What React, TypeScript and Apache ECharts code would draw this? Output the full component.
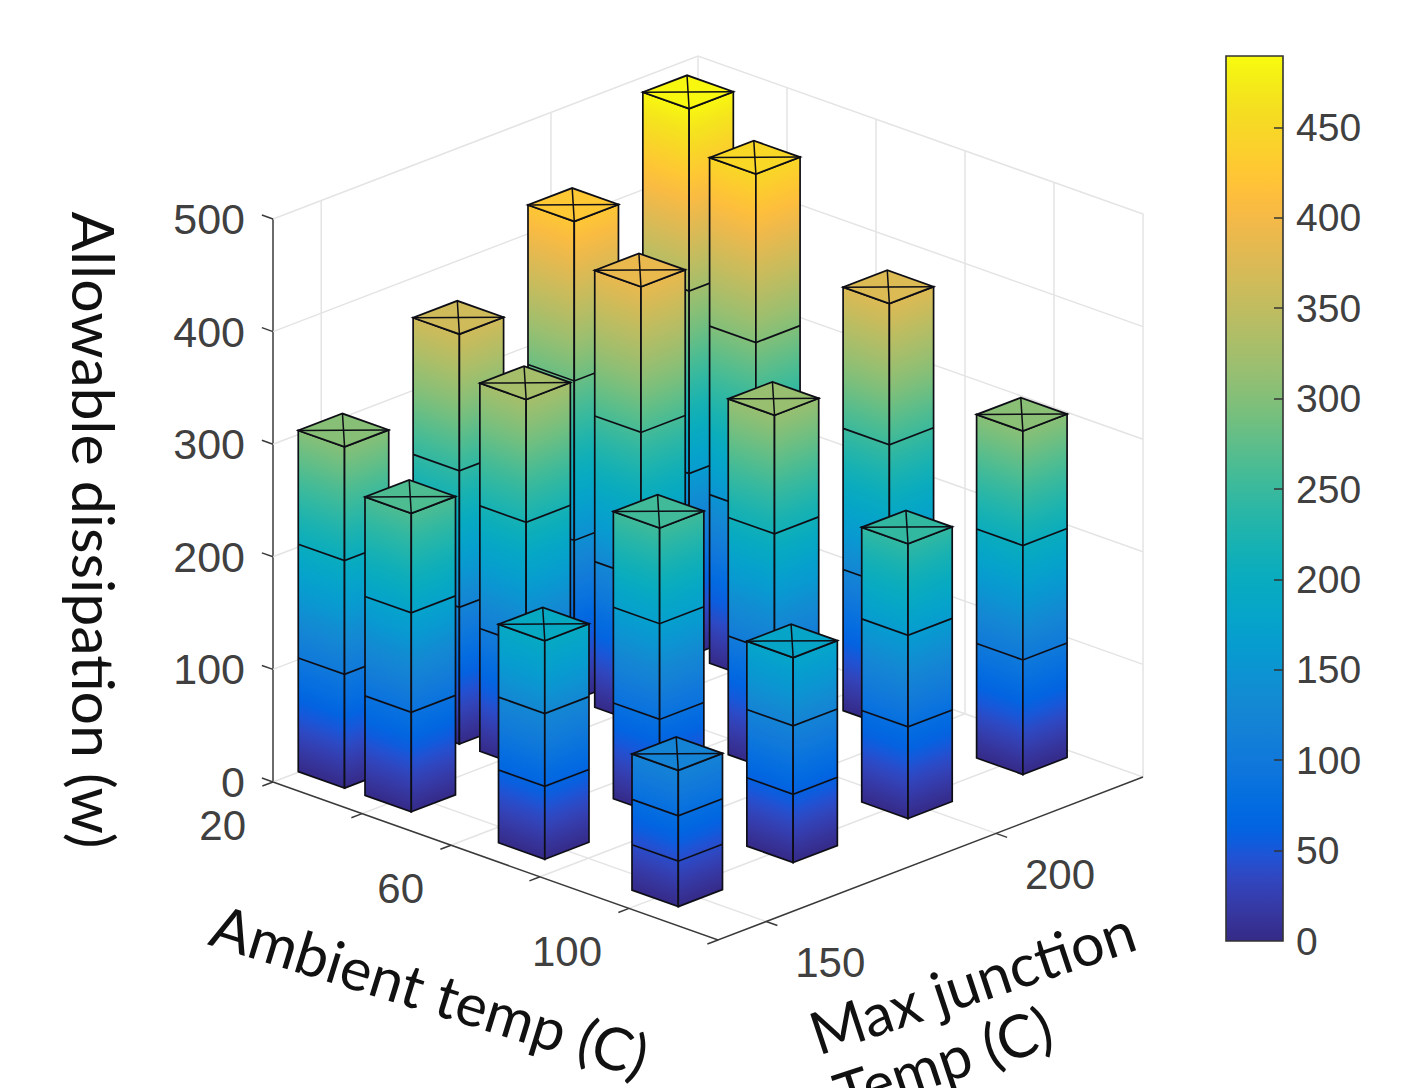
import React, { useEffect, useRef } from "react";
import * as echarts from "echarts";

const AMBIENT = [25, 40, 70, 100];
const JUNCTION = [150, 175, 200, 225];
const POWER_AMB_25 = [303, 364, 425, 486];
const POWER_AMB_40 = [265, 327, 388, 449];
const POWER_AMB_70 = [194, 255, 316, 376];
const POWER_AMB_100 = [121, 182, 244, 305];
const POWER_ROWS = [POWER_AMB_25, POWER_AMB_40, POWER_AMB_70, POWER_AMB_100];

const AMBIENT_TICKS = [20, 40, 60, 80, 100, 120];
const AMBIENT_LABELS = [20, 60, 100];
const JUNCTION_TICKS = [150, 200];
const POWER_TICKS = [0, 100, 200, 300, 400, 500];
const COLOR_MAX = 489.5;

const PARULA = [
  [0.2081, 0.1663, 0.5292], [0.2116, 0.1898, 0.5777], [0.2123, 0.2138, 0.627], [0.2081, 0.2386, 0.6771],
  [0.1959, 0.2645, 0.7279], [0.1707, 0.2919, 0.7792], [0.1253, 0.3242, 0.8303], [0.0591, 0.3598, 0.8683],
  [0.0117, 0.3875, 0.882], [0.006, 0.4086, 0.8828], [0.0165, 0.4266, 0.8786], [0.0329, 0.443, 0.872],
  [0.0498, 0.4586, 0.8641], [0.0629, 0.4737, 0.8554], [0.0723, 0.4887, 0.8467], [0.0779, 0.504, 0.8384],
  [0.0793, 0.52, 0.8312], [0.0749, 0.5375, 0.8263], [0.0641, 0.557, 0.824], [0.0488, 0.5772, 0.8228],
  [0.0343, 0.5966, 0.8199], [0.0265, 0.6137, 0.8135], [0.0239, 0.6287, 0.8038], [0.0231, 0.6418, 0.7913],
  [0.0228, 0.6535, 0.7768], [0.0267, 0.6642, 0.7607], [0.0384, 0.6743, 0.7436], [0.059, 0.6838, 0.7254],
  [0.0843, 0.6928, 0.7062], [0.1133, 0.7015, 0.6859], [0.1453, 0.7098, 0.6646], [0.1801, 0.7177, 0.6424],
  [0.2178, 0.725, 0.6193], [0.2586, 0.7317, 0.5954], [0.3022, 0.7376, 0.5712], [0.3482, 0.7424, 0.5473],
  [0.3953, 0.7459, 0.5244], [0.442, 0.7481, 0.5033], [0.4871, 0.7491, 0.484], [0.53, 0.7491, 0.4661],
  [0.5709, 0.7485, 0.4494], [0.6099, 0.7473, 0.4337], [0.6473, 0.7456, 0.4188], [0.6834, 0.7435, 0.4044],
  [0.7184, 0.7411, 0.3905], [0.7525, 0.7384, 0.3768], [0.7858, 0.7356, 0.3633], [0.8185, 0.7327, 0.3498],
  [0.8507, 0.7299, 0.336], [0.8824, 0.7274, 0.3217], [0.9139, 0.7258, 0.3063], [0.945, 0.7261, 0.2886],
  [0.9739, 0.7314, 0.2666], [0.9938, 0.7455, 0.2403], [0.999, 0.7653, 0.2164], [0.9955, 0.7861, 0.1967],
  [0.988, 0.8066, 0.1794], [0.9789, 0.8271, 0.1633], [0.9697, 0.8481, 0.1475], [0.9626, 0.8705, 0.1309],
  [0.9589, 0.8949, 0.1132], [0.9598, 0.9218, 0.0948], [0.9661, 0.9514, 0.0755], [0.9763, 0.9831, 0.0538],
];

const parula = (t: number) => {
  const p = Math.max(0, Math.min(1, t)) * (PARULA.length - 1);
  const i = Math.min(PARULA.length - 2, Math.floor(p));
  const f = p - i;
  const c = PARULA[i].map((v, k) => Math.round(255 * (v + (PARULA[i + 1][k] - v) * f)));
  return `rgb(${c[0]},${c[1]},${c[2]})`;
};

const stopsTo = (value: number, n = 24) =>
  Array.from({ length: n + 1 }, (_, i) => ({ offset: i / n, color: parula(((i / n) * value) / COLOR_MAX) }));

// projection geometry
const ORIGIN_X = 273;
const AX = 445, AY = 158; // floor vector of the ambient axis
const BX = 425, BY = -163; // floor vector of the junction axis
const HALF = 0.052;
const TICK = 0.025;
const INK = "#0e0e16";
const AXIS = "#3a3a3a";
const WALL = "#e4e4e4";
const LABEL = "#404040";
const TICK_FONT = '42px "Liberation Sans", Arial, sans-serif';
const TITLE_FONT = '59px Lato, sans-serif';

export default function App() {
  const ref = useRef<HTMLDivElement>(null);
  useEffect(() => {
    const chart = echarts.init(ref.current!, null, { renderer: "svg" });

    const makeProjector = (api: any) => {
      const fa = (amb: number) => (api.coord([amb, 0])[0] - ORIGIN_X) / AX;
      const fb = (j: number) => ((chart as any).convertToPixel({ xAxisIndex: 1 }, j) - ORIGIN_X) / BX;
      const zy = (z: number) => api.coord([20, z])[1];
      const at = (a: number, b: number, z: number) => [
        ORIGIN_X + a * AX + b * BX,
        zy(z) + a * AY + b * BY,
      ];
      return { fa, fb, at };
    };

    const line = (pts: number[][], stroke: string, lineWidth: number) => ({
      type: "polyline",
      shape: { points: pts },
      style: { fill: "none", stroke, lineWidth },
    });

    const renderFrame = (_: any, api: any) => {
      const { fa, fb, at } = makeProjector(api);
      const kids: any[] = [];
      const zMax = POWER_TICKS[POWER_TICKS.length - 1];
      const tickA = AMBIENT_TICKS.map(fa);
      const tickB = JUNCTION_TICKS.map(fb);
      kids.push(line([at(0, 0, zMax), at(0, 1, zMax), at(1, 1, zMax), at(1, 1, 0)], WALL, 1.5));
      kids.push(line([at(0, 1, 0), at(0, 1, zMax)], WALL, 1.5));
      kids.push(line([at(0, 0, 0), at(0, 1, 0), at(1, 1, 0)], WALL, 1.5));
      POWER_TICKS.slice(1, -1).forEach((z) => {
        kids.push(line([at(0, 0, z), at(0, 1, z), at(1, 1, z)], WALL, 1.5));
      });
      tickB.forEach((b) => {
        kids.push(line([at(0, b, zMax), at(0, b, 0), at(1, b, 0)], WALL, 1.5));
      });
      tickA.forEach((a) => {
        if (a <= 0 || a >= 1) return;
        kids.push(line([at(a, 0, 0), at(a, 1, 0), at(a, 1, zMax)], WALL, 1.5));
      });
      kids.push(line([at(0, 0, 0), at(1, 0, 0), at(1, 1, 0)], AXIS, 1.5));
      tickA.forEach((a) => kids.push(line([at(a, 0, 0), at(a, -TICK, 0)], AXIS, 1.5)));
      tickB.forEach((b) => kids.push(line([at(1, b, 0), at(1 + TICK, b, 0)], AXIS, 1.5)));
      POWER_TICKS.forEach((z) => kids.push(line([at(0, 0, z), at(-TICK, 0, z)], AXIS, 1.5)));
      AMBIENT_LABELS.forEach((v) => {
        const p = at(fa(v), 0, 0);
        kids.push({
          type: "text",
          style: { text: String(v), x: p[0] - 27, y: p[1] + 43, align: "right", verticalAlign: "middle", font: TICK_FONT, fill: LABEL },
        });
      });
      JUNCTION_TICKS.forEach((v) => {
        const p = at(1, fb(v), 0);
        kids.push({
          type: "text",
          style: { text: String(v), x: p[0] + 29, y: p[1] + 41, align: "left", verticalAlign: "middle", font: TICK_FONT, fill: LABEL },
        });
      });
      return { type: "group", children: kids };
    };

    const renderBar = (_: any, api: any) => {
      const { fa, fb, at } = makeProjector(api);
      const a = fa(api.value(0));
      const b = fb(api.value(1));
      const v = api.value(2);
      const vtx = (da: number, db: number, z: number) => at(a + da * HALF, b + db * HALF, z);
      const left = (z: number) => vtx(-1, -1, z);
      const front = (z: number) => vtx(1, -1, z);
      const right = (z: number) => vtx(1, 1, z);
      const back = (z: number) => vtx(-1, 1, z);
      const f0 = front(0);
      const H = f0[1] - front(v)[1];
      const face = (edge: number[]) => {
        // iso-value lines run along the face's bottom edge
        const ex = edge[0] - f0[0];
        const ey = edge[1] - f0[1];
        const len = Math.hypot(ex, ey);
        let nx = ey / len;
        let ny = -ex / len;
        if (ny > 0) { nx = -nx; ny = -ny; }
        const dist = H * -ny;
        return new echarts.graphic.LinearGradient(f0[0], f0[1], f0[0] + nx * dist, f0[1] + ny * dist, stopsTo(v), true);
      };
      const kids: any[] = [
        { type: "polygon", shape: { points: [left(0), f0, front(v), left(v)] }, style: { fill: face(left(0)), stroke: INK, lineWidth: 1.7 } },
        { type: "polygon", shape: { points: [f0, right(0), right(v), front(v)] }, style: { fill: face(right(0)), stroke: INK, lineWidth: 1.7 } },
        { type: "polygon", shape: { points: [left(v), front(v), right(v), back(v)] }, style: { fill: parula(v / COLOR_MAX), stroke: INK, lineWidth: 1.8 } },
        line([left(v), right(v)], INK, 1.5),
        line([back(v), front(v)], INK, 1.5),
      ];
      [1, 2].forEach((k) => {
        const z = (v * k) / 3;
        kids.push(line([left(z), front(z), right(z)], INK, 1.7));
      });
      return { type: "group", children: kids };
    };

    const renderColorbar = (_: any, api: any) => {
      const p0 = api.coord([0, 0]);
      const p1 = api.coord([1, COLOR_MAX]);
      return {
        type: "rect",
        shape: { x: p0[0], y: p1[1], width: p1[0] - p0[0], height: p0[1] - p1[1] },
        style: {
          fill: new echarts.graphic.LinearGradient(0, 1, 0, 0, stopsTo(COLOR_MAX, 63)),
          stroke: "#333333",
          lineWidth: 1.6,
        },
      };
    };

    const barData: number[][] = [];
    AMBIENT.forEach((amb, i) => {
      for (let j = JUNCTION.length - 1; j >= 0; j--) barData.push([amb, JUNCTION[j], POWER_ROWS[i][j]]);
    });

    chart.setOption({
      animation: false,
      backgroundColor: "#ffffff",
      grid: [
        { left: ORIGIN_X, top: 219, width: AX, height: 563 },
        { left: ORIGIN_X, top: 219, width: BX, height: 563 },
        { left: 1226, top: 56, width: 57, height: 885 },
      ],
      xAxis: [
        { type: "value", gridIndex: 0, min: 20, max: 120, show: false },
        { type: "value", gridIndex: 1, min: 139.5, max: 232, show: false },
        { type: "value", gridIndex: 2, min: 0, max: 1, show: false },
      ],
      yAxis: [
        {
          type: "value", gridIndex: 0, min: 0, max: 500, interval: 100,
          axisLine: { show: true, onZero: false, lineStyle: { color: AXIS, width: 1.5 } },
          axisTick: { show: false }, splitLine: { show: false },
          axisLabel: { margin: 28, color: LABEL, fontSize: 43, padding: [0, 0, 4, 0], fontFamily: '"Liberation Sans", Arial, sans-serif' },
        },
        { type: "value", gridIndex: 1, min: 0, max: 500, show: false },
        {
          type: "value", gridIndex: 2, position: "right", min: 0, max: COLOR_MAX, interval: 50, z: 5,
          axisLine: { show: false, onZero: false },
          axisTick: { show: true, inside: true, length: 9, lineStyle: { color: "#333333", width: 1.5 }, customValues: [50, 100, 150, 200, 250, 300, 350, 400, 450] },
          splitLine: { show: false },
          axisLabel: { margin: 13, color: LABEL, fontSize: 39, showMaxLabel: false, padding: [6, 0, 0, 0], fontFamily: '"Liberation Sans", Arial, sans-serif' },
        },
      ],
      series: [
        { type: "custom", xAxisIndex: 0, yAxisIndex: 0, clip: false, silent: true, z: 1, data: [[20, 0]], renderItem: renderFrame },
        { type: "custom", xAxisIndex: 0, yAxisIndex: 0, clip: false, silent: true, z: 2, data: barData, encode: { x: 0, y: 2 }, renderItem: renderBar },
        { type: "custom", xAxisIndex: 2, yAxisIndex: 2, clip: false, silent: true, z: 1, data: [[0, 0]], renderItem: renderColorbar },
      ],
      graphic: [
        { type: "text", x: 94, y: 530, rotation: -Math.PI / 2, style: { text: "Allowable dissipation (w)", font: TITLE_FONT, fill: "#111111", align: "center", verticalAlign: "middle" } },
        { type: "text", x: 430, y: 990, rotation: -0.3, style: { text: "Ambient temp (C)", font: TITLE_FONT, fill: "#111111", align: "center", verticalAlign: "middle" } },
        { type: "text", x: 972, y: 981, rotation: 0.32, style: { text: "Max junction", font: TITLE_FONT, fill: "#111111", align: "center", verticalAlign: "middle" } },
        { type: "text", x: 943, y: 1060, rotation: 0.32, style: { text: "Temp (C)", font: TITLE_FONT, fill: "#111111", align: "center", verticalAlign: "middle" } },
      ],
    });
    return () => chart.dispose();
  }, []);
  return <div ref={ref} style={{ position: "absolute", left: 0, top: 0, width: 1412, height: 1088, overflow: "hidden" }} />;
}
